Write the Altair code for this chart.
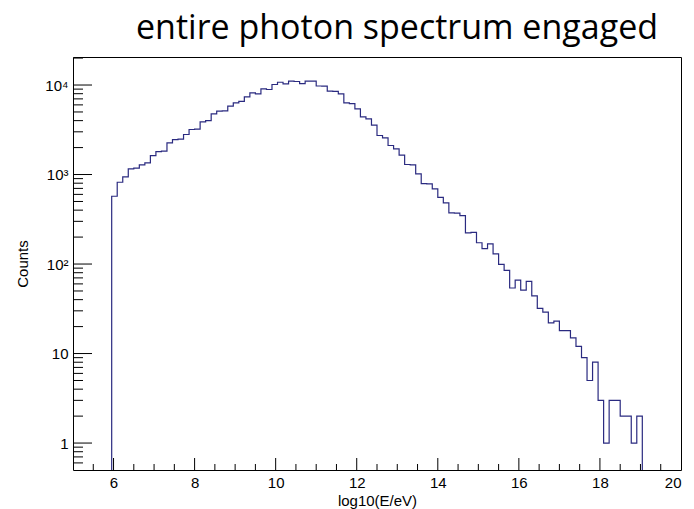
import altair as alt
import pandas as pd

# ---- text ----
title_text = "entire photon spectrum engaged"
x_title = "log10(E/eV)"
y_title = "Counts"

# ---- histogram (uniform bins: 110 bins on [5, 20], filled bins start at bin 7) ----
first_edge = 5.0 + 7 * 15.0 / 110
bin_width = 15.0 / 110
counts = [
    572, 820, 943, 1158, 1180, 1283, 1352, 1630, 1807, 1830,
    2260, 2460, 2490, 2800, 3184, 3220, 3880, 4010, 4770, 5096,
    5150, 5800, 6325, 6580, 7380, 8180, 7980, 9073, 8910, 10130,
    10740, 10310, 11030, 10950, 10390, 11030, 11050, 9745, 9700, 8530,
    8500, 7980, 6325, 6210, 5420, 4414, 4190, 3556, 2730, 2570,
    2109, 1937, 1644, 1294, 1280, 1018, 793, 785, 692, 557,
    483, 373, 370, 348, 223, 226, 173, 149, 168, 130,
    99, 85, 54, 66, 51, 64, 44, 32, 29, 22,
    23, 18, 18, 15, 12, 9, 5, 8, 3, 1,
    3, 3, 2, 2, 1, 2,
]

# ---- axes ----
x_domain = [5, 20]
y_domain = [0.5, 20560]
x_major = [6, 8, 10, 12, 14, 16, 18, 20]
x_minor = [5.5 + 0.5 * k for k in range(29) if (5.5 + 0.5 * k) % 2 != 0]
y_major = [1, 10, 100, 1000, 10000]
y_minor = [0.6, 0.7, 0.8, 0.9] + [m * d for d in (1, 10, 100, 1000) for m in range(2, 10)] + [20000]

W, H = 608, 413
LINE = "#2a2a80"
FONT = "Liberation Sans"

# build the step outline
rows = [{"i": 0, "x": first_edge, "y": y_domain[0]}]
for j, c in enumerate(counts):
    rows.append({"i": j + 1, "x": first_edge + j * bin_width, "y": c})
end_edge = first_edge + len(counts) * bin_width
rows.append({"i": len(counts) + 1, "x": end_edge, "y": counts[-1]})
rows.append({"i": len(counts) + 2, "x": end_edge, "y": y_domain[0]})
hist_df = pd.DataFrame(rows)

xscale = alt.Scale(domain=x_domain, nice=False, zero=False)
yscale = alt.Scale(type="log", domain=y_domain, nice=False)

label_expr = (
    "datum.value >= 9999 ? '10⁴' : datum.value >= 999 ? '10³' : "
    "datum.value >= 99 ? '10²' : datum.value >= 9 ? '10' : '1'"
)

xaxis = alt.Axis(
    values=x_major, format="d", ticks=False, domain=False, grid=False,
    labelFont=FONT, labelFontSize=15, labelColor="black", labelPadding=5,
    title=x_title, titleFont=FONT, titleFontSize=15, titleFontWeight="normal",
    titleColor="black", titleY=30, titleBaseline="middle",
)
yaxis = alt.Axis(
    values=y_major, labelExpr=label_expr, ticks=False, domain=False, grid=False,
    labelFont=FONT, labelFontSize=15, labelColor="black", labelPadding=5,
    title=y_title, titleFont=FONT, titleFontSize=15, titleFontWeight="normal",
    titleColor="black", titleX=-51, titleY=H / 2, titleAngle=-90,
    titleBaseline="middle", titleAlign="center",
)

hist = alt.Chart(hist_df).mark_line(
    interpolate="step-after", color=LINE, strokeWidth=1.2, clip=True
).encode(
    x=alt.X("x:Q", scale=xscale, axis=xaxis),
    y=alt.Y("y:Q", scale=yscale, axis=yaxis),
    order="i:Q",
)

xmaj = alt.Chart(pd.DataFrame({"x": x_major[:-1]})).mark_rule(color="black", strokeWidth=1).encode(
    x=alt.X("x:Q", scale=xscale, axis=xaxis), y=alt.value(H), y2=alt.value(H - 12))
xmin = alt.Chart(pd.DataFrame({"x": x_minor})).mark_rule(color="black", strokeWidth=1).encode(
    x=alt.X("x:Q", scale=xscale, axis=xaxis), y=alt.value(H), y2=alt.value(H - 6))
ymaj = alt.Chart(pd.DataFrame({"y": y_major})).mark_rule(color="black", strokeWidth=1).encode(
    y=alt.Y("y:Q", scale=yscale, axis=yaxis), x=alt.value(0), x2=alt.value(19))
ymin = alt.Chart(pd.DataFrame({"y": y_minor})).mark_rule(color="black", strokeWidth=1).encode(
    y=alt.Y("y:Q", scale=yscale, axis=yaxis), x=alt.value(0), x2=alt.value(10))

title = alt.Chart(pd.DataFrame({"t": [title_text]})).mark_text(
    font="Open Sans", fontSize=34, align="center", baseline="alphabetic", color="black"
).encode(text="t:N", x=alt.value(324), y=alt.value(-18))

chart = alt.layer(hist, xmaj, xmin, ymaj, ymin, title).properties(
    width=W, height=H,
    padding={"left": 73, "top": 57, "right": 13, "bottom": 39},
    autosize=alt.AutoSizeParams(type="none"),
    background="white",
).configure_view(stroke="black", strokeWidth=1)

chart.save("out.html", embed_options={"renderer": "svg", "actions": False})
